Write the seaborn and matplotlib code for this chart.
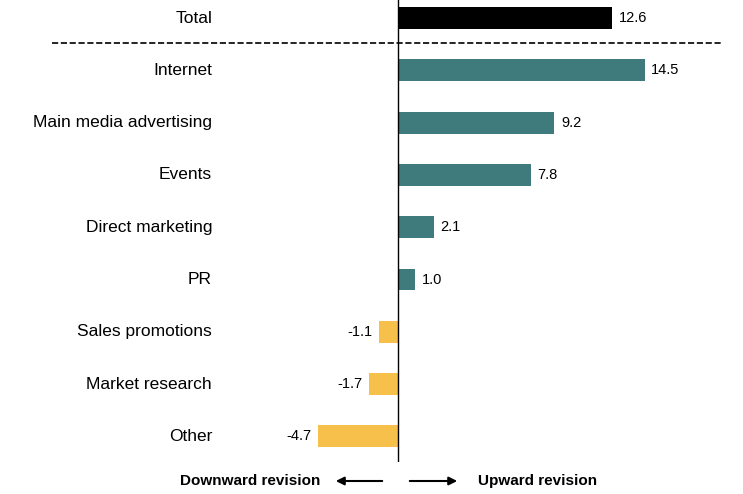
import matplotlib
matplotlib.use('Agg')
import matplotlib.pyplot as plt
import seaborn as sns
import pandas as pd

categories = ['Total', 'Internet', 'Main media advertising', 'Events', 'Direct marketing',
              'PR', 'Sales promotions', 'Market research', 'Other']
values = [12.6, 14.5, 9.2, 7.8, 2.1, 1.0, -1.1, -1.7, -4.7]
value_labels = ['12.6', '14.5', '9.2', '7.8', '2.1', '1.0', '-1.1', '-1.7', '-4.7']

plt.rcParams['font.family'] = ['Liberation Sans', 'DejaVu Sans']

colors = ['#000000' if c == 'Total' else ('#3f7a7c' if v >= 0 else '#f7c04a')
          for c, v in zip(categories, values)]
df = pd.DataFrame({'cat': categories, 'val': values})

fig = plt.figure(figsize=(7.43, 4.94), dpi=100)
ax = fig.add_axes([0, 32 / 494, 1, 1 - 32 / 494])
sns.barplot(data=df, x='val', y='cat', hue='cat', palette=colors, order=categories,
            orient='h', width=0.42, legend=False, ax=ax, saturation=1)

px = 17.0
ax.set_xlim(-398 / px, (743 - 398) / px)
ax.set_ylim((462 - 18) / 52.3, -18 / 52.3)
ax.axis('off')

ax.axvline(0, color='black', lw=1)
ax.plot([(52 - 398) / px, (722 - 398) / px], [0.48, 0.48], ls='--', color='black', lw=1.2)

for i, (c, v, lab) in enumerate(zip(categories, values, value_labels)):
    ax.text((212 - 398) / px, i, c, ha='right', va='center', fontsize=12.5)
    if v >= 0:
        ax.text(v + 0.4, i, lab, ha='left', va='center', fontsize=10.5)
    else:
        ax.text(v - 0.4, i, lab, ha='right', va='center', fontsize=10.5)

fig.text(320 / 743, 1 - 481 / 494, 'Downward revision', ha='right', va='center',
         fontsize=11, fontweight='bold')
fig.text(478 / 743, 1 - 481 / 494, 'Upward revision', ha='left', va='center',
         fontsize=11, fontweight='bold')
fig.patches.append(matplotlib.patches.FancyArrowPatch(
    (385 / 743, 1 - 481 / 494), (333 / 743, 1 - 481 / 494), transform=fig.transFigure,
    arrowstyle='-|>', mutation_scale=12, lw=1.5, color='black'))
fig.patches.append(matplotlib.patches.FancyArrowPatch(
    (407 / 743, 1 - 481 / 494), (460 / 743, 1 - 481 / 494), transform=fig.transFigure,
    arrowstyle='-|>', mutation_scale=12, lw=1.5, color='black'))

fig.savefig('out.png', dpi=100)
